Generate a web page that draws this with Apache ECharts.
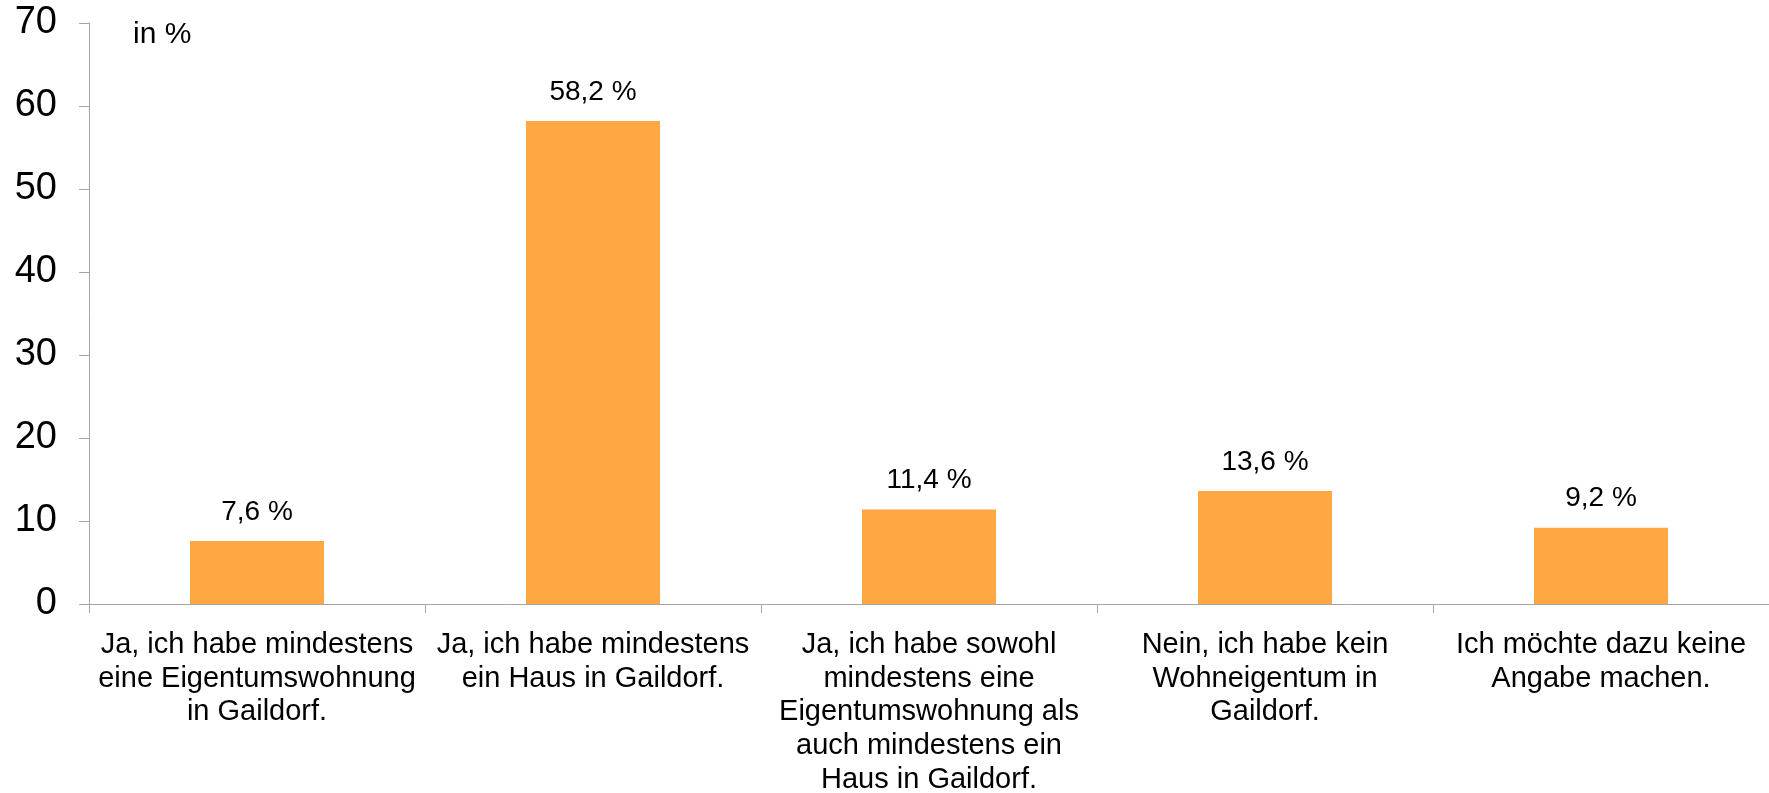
<!DOCTYPE html>
<html>
<head>
<meta charset="utf-8">
<script src="https://cdn.jsdelivr.net/npm/echarts@6/dist/echarts.min.js"></script>
<style>
  html, body { margin: 0; padding: 0; background: #fff; }
  #myChart { width: 1769px; height: 793px; }
</style>
</head>
<body>
<div id="myChart"></div>
<script>
  // Kategorien und Werte (in %)
  const categories = [
    'Ja, ich habe mindestens\neine Eigentumswohnung\nin Gaildorf.',
    'Ja, ich habe mindestens\nein Haus in Gaildorf.',
    'Ja, ich habe sowohl\nmindestens eine\nEigentumswohnung als\nauch mindestens ein\nHaus in Gaildorf.',
    'Nein, ich habe kein\nWohneigentum in\nGaildorf.',
    'Ich möchte dazu keine\nAngabe machen.'
  ];
  const values = [7.6, 58.2, 11.4, 13.6, 9.2];
  const yTicks = [0, 10, 20, 30, 40, 50, 60, 70];

  const font = '"Liberation Sans", Arial, sans-serif';
  const axisGray = '#A6A6A6';

  const myChart = echarts.init(document.getElementById('myChart'));
  const option = {
    animation: false,
    title: {
      text: 'in %',
      left: 128,
      top: 15,
      textStyle: { fontFamily: font, fontSize: 30, fontWeight: 'normal', color: '#000' }
    },
    grid: {
      left: 89,
      right: 0,
      top: 23,
      bottom: 189,
      containLabel: false,
      outerBoundsMode: 'none'
    },
    xAxis: {
      type: 'category',
      data: categories,
      axisLine: { lineStyle: { color: axisGray, width: 1 } },
      axisTick: { show: true, length: 9, lineStyle: { color: axisGray } },
      axisLabel: {
        interval: 0,
        margin: 24,
        color: '#000',
        fontFamily: font,
        fontSize: 29,
        lineHeight: 33.7
      }
    },
    yAxis: {
      type: 'value',
      min: yTicks[0],
      max: yTicks[yTicks.length - 1],
      interval: 10,
      splitLine: { show: false },
      axisLine: { show: true, lineStyle: { color: axisGray, width: 1 } },
      axisTick: { show: true, length: 10, lineStyle: { color: axisGray } },
      axisLabel: {
        margin: 32,
        color: '#000',
        fontFamily: font,
        fontSize: 38
      }
    },
    series: [{
      type: 'bar',
      data: values,
      barWidth: 134,
      itemStyle: { color: '#FFA843' },
      label: {
        show: true,
        position: 'top',
        distance: 15,
        color: '#000',
        fontFamily: font,
        fontSize: 28,
        formatter: (p) => p.value.toFixed(1).replace('.', ',') + ' %'
      }
    }]
  };
  myChart.setOption(option);
</script>
</body>
</html>
